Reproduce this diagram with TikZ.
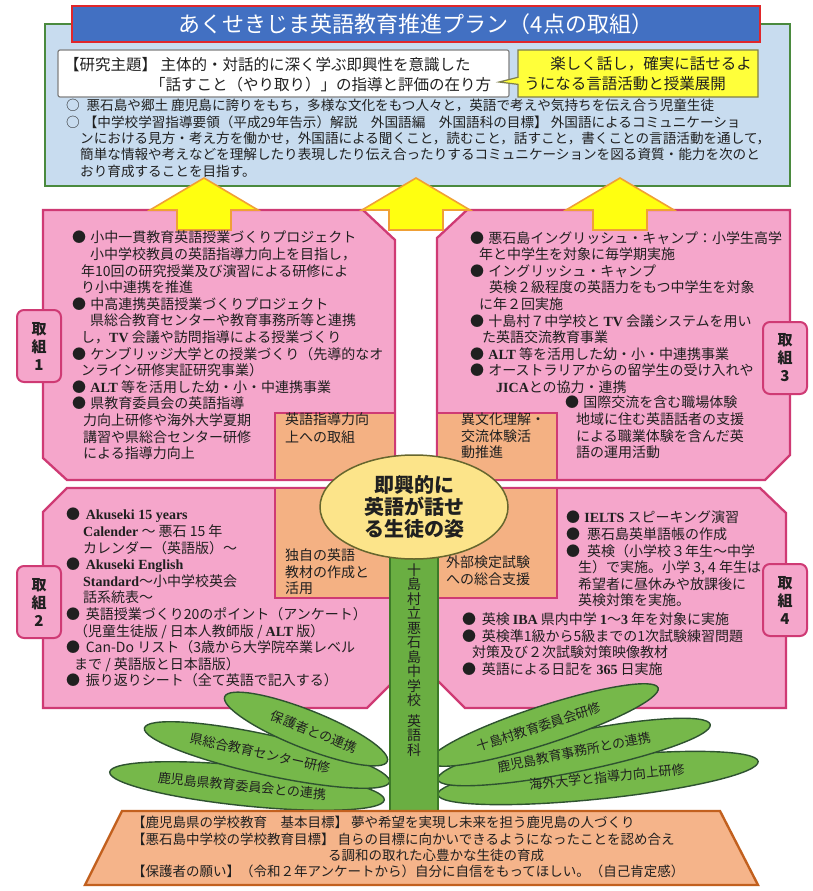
\documentclass[tikz,border=0pt]{standalone}
\usepackage{fontspec}
\setmainfont{Noto Sans CJK JP}
\newfontfamily\latserif{Liberation Serif}
\newcommand\lb[1]{{\latserif\bfseries #1}}
\usetikzlibrary{shapes.geometric,shapes.callouts}

\definecolor{bluefill}{HTML}{C8DCEF}
\definecolor{boxgreen}{HTML}{4A8A3E}
\definecolor{titleblue}{HTML}{4270C2}
\definecolor{titlered}{HTML}{E0262A}
\definecolor{scrollline}{HTML}{808080}
\definecolor{calloutfill}{HTML}{FFFF3A}
\definecolor{calloutline}{HTML}{7F7F4C}
\definecolor{arrowfill}{HTML}{FFFF10}
\definecolor{arrowline}{HTML}{F0A035}
\definecolor{pinkfill}{HTML}{F5A6CB}
\definecolor{pinkline}{HTML}{CF3A74}
\definecolor{orangefill}{HTML}{F4B183}
\definecolor{ellfill}{HTML}{FCE48A}
\definecolor{ellline}{HTML}{66662E}
\definecolor{stemfill}{HTML}{6AAE42}
\definecolor{stemline}{HTML}{3D7A28}
\definecolor{leaffill}{HTML}{76B84A}
\definecolor{leafline}{HTML}{2E5230}
\definecolor{trapfill}{HTML}{F5B48A}
\definecolor{trapline}{HTML}{C2601E}
\definecolor{ink}{HTML}{202020}

\tikzset{
  planbox/.style={fill=bluefill, draw=boxgreen, line width=2.6pt},
  titlebar/.style={fill=titleblue, draw=titlered, line width=2.6pt, text=white,
    font=\fontsize{22}{24}\selectfont, inner sep=0},
  scrollbox/.style={fill=white, draw=scrollline, line width=1.2pt, rounded corners=2pt},
  themebubble/.style={rectangle callout, fill=calloutfill, draw=calloutline, line width=1.2pt,
    inner sep=0, align=left, text=ink, font=\fontsize{15.5}{20}\selectfont},
  uparrow/.style={fill=arrowfill, draw=arrowline, line width=1.6pt, line join=miter},
  pinkbox/.style={fill=pinkfill, draw=pinkline, line width=2.3pt, line join=miter},
  orangebox/.style={fill=orangefill, draw=pinkline, line width=1.6pt},
  tagbox/.style={fill=pinkfill, draw=pinkline, line width=2pt, rounded corners=7pt,
    minimum width=44pt, minimum height=72pt, align=center, text=ink, inner sep=0,
    font=\fontsize{15}{18}\selectfont\bfseries},
  bodytext/.style={anchor=north west, inner sep=0, align=left, text=ink,
    font=\fontsize{14}{16.6}\selectfont},
  planlines/.style={anchor=north west, inner sep=0, align=left, text=ink,
    font=\fontsize{13.6}{16.4}\selectfont},
  goal/.style={ellipse, fill=ellfill, draw=ellline, line width=1.5pt, inner sep=0,
    align=center, text=ink, font=\fontsize{20}{22}\selectfont\bfseries},
  stemstyle/.style={fill=stemfill, draw=stemline, line width=1.4pt, inner sep=0},
  leaf/.style={ellipse, fill=leaffill, draw=leafline, line width=1.4pt, inner sep=0},
  leaftext/.style={inner sep=0, text=ink, font=\fontsize{13}{14}\selectfont},
  basebox/.style={fill=trapfill, draw=trapline, line width=2.4pt, line join=miter},
}

\begin{document}
\begin{tikzpicture}[x=1pt,y=-1pt]
\useasboundingbox (0,0) rectangle (812,891);
\fill[white] (0,0) rectangle (812,891);

% ---- plan panel ----
\path[planbox] (45,24) rectangle (790,186);
\node[titlebar, minimum width=688pt, minimum height=36pt] (title) at (416,24)
  {あくせきじま英語教育推進プラン（4点の取組）};

\node[scrollbox, minimum width=451pt, minimum height=47pt, inner sep=0] (themebox) at (283.5,73.5) {};
\node[anchor=north west, inner sep=0, align=left, text=ink, font=\fontsize{15.5}{20}\selectfont]
  (themetext) at (64,57.5)
  {【研究主題】 主体的・対話的に深く学ぶ即興性を意識した\\
   \hspace*{86pt}「話すこと（やり取り）」の指導と評価の在り方};

\node[themebubble, minimum width=240pt, minimum height=47pt,
  callout absolute pointer={(499,82)}] (bubble) at (638,73.5)
  {\hspace*{26pt}楽しく話し，確実に話せるよ\\うになる言語活動と授業展開};

\node[planlines] (aims) at (66,99)
  {○\hspace{0.5em}悪石島や郷土 鹿児島に誇りをもち，多様な文化をもつ人々と，英語で考えや気持ちを伝え合う児童生徒\\
   ○\hspace{0.3em}【中学校学習指導要領（平成29年告示）解説　外国語編　外国語科の目標】 外国語によるコミュニケーショ\\
   \hspace*{14pt}ンにおける見方・考え方を働かせ，外国語による聞くこと，読むこと，話すこと，書くことの言語活動を通して，\\
   \hspace*{14pt}簡単な情報や考えなどを理解したり表現したり伝え合ったりするコミュニケーションを図る資質・能力を次のと\\
   \hspace*{14pt}おり育成することを目指す。};

% ---- four activity panels ----
\path[pinkbox] (43,210) -- (363,210) -- (395,240) -- (395,480) -- (67,480) -- (43,458) -- cycle;
\path[pinkbox] (467,210) -- (790,210) -- (790,455) -- (765,480) -- (437,480) -- (437,238) -- cycle;
\path[pinkbox] (67,488) -- (395,488) -- (395,680) -- (367,708) -- (43,708) -- (43,512) -- cycle;
\path[pinkbox] (437,488) -- (760,488) -- (786,513) -- (786,708) -- (465,708) -- (437,680) -- cycle;

\path[orangebox] (275,413) rectangle (395,480);
\path[orangebox] (437,413) rectangle (557,480);
\path[orangebox] (275,488) rectangle (395,598);
\path[orangebox] (437,488) rectangle (557,598);

% arrows up into the plan panel
\foreach \cx in {204,416,620}
  \path[uparrow] (\cx,178) -- ++(54,32) -- ++(-27,0) -- ++(0,20) -- ++(-54,0)
     -- ++(0,-20) -- ++(-27,0) -- cycle;

\node[tagbox] (tag1) at (39,346) {取\\組\\1};
\node[tagbox] (tag3) at (785,358) {取\\組\\3};
\node[tagbox] (tag2) at (39,602) {取\\組\\2};
\node[tagbox] (tag4) at (785,600) {取\\組\\4};

\node[bodytext] (tltext) at (72,231)
  {●\hspace{0.3em}小中一貫教育英語授業づくりプロジェクト\\
   \hspace*{18pt}小中学校教員の英語指導力向上を目指し，\\
   \hspace*{9pt}年10回の研究授業及び演習による研修によ\\
   \hspace*{9pt}り小中連携を推進\\
   ●\hspace{0.3em}中高連携英語授業づくりプロジェクト\\
   \hspace*{18pt}県総合教育センターや教育事務所等と連携\\
   \hspace*{9pt}し，\lb{TV} 会議や訪問指導による授業づくり\\
   ●\hspace{0.3em}ケンブリッジ大学との授業づくり（先導的なオ\\
   \hspace*{9pt}ンライン研修実証研究事業）\\
   ●\hspace{0.3em}\lb{ALT} 等を活用した幼・小・中連携事業\\
   ●\hspace{0.3em}県教育委員会の英語指導\\
   \hspace*{11pt}力向上研修や海外大学夏期\\
   \hspace*{11pt}講習や県総合センター研修\\
   \hspace*{11pt}による指導力向上};

\node[bodytext] (trtext) at (470,231)
  {●\hspace{0.3em}悪石島イングリッシュ・キャンプ：小学生高学\\
   \hspace*{9pt}年と中学生を対象に毎学期実施\\
   ●\hspace{0.3em}イングリッシュ・キャンプ\\
   \hspace*{19pt}英検２級程度の英語力をもつ中学生を対象\\
   \hspace*{9pt}に年２回実施\\
   ●\hspace{0.3em}十島村７中学校と \lb{TV} 会議システムを用い\\
   \hspace*{12pt}た英語交流教育事業\\
   ●\hspace{0.3em}\lb{ALT} 等を活用した幼・小・中連携事業\\
   ●\hspace{0.3em}オーストラリアからの留学生の受け入れや\\
   \hspace*{26pt}\lb{JICA}との協力・連携};

\node[bodytext] (trtext2) at (565,396)
  {●\hspace{0.3em}国際交流を含む職場体験\\
   \hspace*{11pt}地域に住む英語話者の支援\\
   \hspace*{11pt}による職業体験を含んだ英\\
   \hspace*{11pt}語の運用活動};

\node[bodytext] (bltext) at (66,508)
  {●\hspace{0.4em}\lb{Akuseki 15 years}\\
   \hspace*{17pt}\lb{Calender} ～ 悪石 15 年\\
   \hspace*{17pt}カレンダー（英語版）～\\
   ●\hspace{0.4em}\lb{Akuseki English}\\
   \hspace*{17pt}\lb{Standard}～小中学校英会\\
   \hspace*{17pt}話系統表～\\
   ●\hspace{0.4em}英語授業づくり20のポイント（アンケート）\\
   \hspace*{8pt}（児童生徒版 / 日本人教師版 / \lb{ALT} 版）\\
   ●\hspace{0.4em}Can-Do リスト（3歳から大学院卒業レベル\\
   \hspace*{8pt}まで / 英語版と日本語版）\\
   ●\hspace{0.4em}振り返りシート（全て英語で記入する）};

\node[bodytext] (brtext) at (566,511)
  {●\hspace{0.3em}\lb{IELTS} スピーキング演習\\
   ●\hspace{0.5em}悪石島英単語帳の作成\\
   ●\hspace{0.5em}英検（小学校３年生～中学\\
   \hspace*{12pt}生）で実施。小学 3, 4 年生は\\
   \hspace*{12pt}希望者に昼休みや放課後に\\
   \hspace*{12pt}英検対策を実施。};

\node[bodytext] (brtext2) at (462,612.5)
  {●\hspace{0.4em}英検 \lb{IBA} 県内中学 \lb{1}～\lb{3} 年を対象に実施\\
   ●\hspace{0.4em}英検準1級から5級までの1次試験練習問題\\
   \hspace*{10pt}対策及び２次試験対策映像教材\\
   ●\hspace{0.4em}英語による日記を \lb{365} 日実施};

% focus labels in the orange boxes
\node[bodytext, font=\fontsize{14}{18}\selectfont] (focus1) at (285,413) {英語指導力向\\上への取組};
\node[bodytext, font=\fontsize{14}{16.5}\selectfont] (focus3) at (461,413) {異文化理解・\\交流体験活\\動推進};
\node[bodytext, font=\fontsize{14}{16.5}\selectfont] (focus2) at (285,549) {独自の英語\\教材の作成と\\活用};
\node[bodytext, font=\fontsize{14}{17}\selectfont] (focus4) at (446,556) {外部検定試験\\への総合支援};

% ---- leaves, stem and goal ----
\node[leaf, minimum width=276pt, minimum height=40pt, rotate=-5.8] (lf3) at (247,786) {};
\node[leaf, minimum width=251pt, minimum height=40pt, rotate=-12.4] (lf2) at (267,755) {};
\node[leaf, minimum width=175pt, minimum height=38pt, rotate=-21.7] (lf1) at (306,729) {};
\node[leaf, minimum width=322pt, minimum height=42pt, rotate=5.9] (lf6) at (598,778) {};
\node[leaf, minimum width=278pt, minimum height=40pt, rotate=11.4] (lf5) at (574,752) {};
\node[leaf, minimum width=240pt, minimum height=38pt, rotate=18] (lf4) at (544,725) {};

\node[leaftext, rotate=-5.8] (lf3t) at (242,786) {鹿児島県教育委員会との連携};
\node[leaftext, rotate=-12.4] (lf2t) at (260,753) {県総合教育センター研修};
\node[leaftext, rotate=-21.7] (lf1t) at (314,732) {保護者との連携};
\node[leaftext, rotate=5.9] (lf6t) at (607,777) {海外大学と指導力向上研修};
\node[leaftext, rotate=11.4] (lf5t) at (574,752) {鹿児島教育事務所との連携};
\node[leaftext, rotate=18] (lf4t) at (539,727) {十島村教育委員会研修};

\node[stemstyle, minimum width=48pt, minimum height=272pt] (stem) at (414,676) {};
\node[inner sep=0, align=center, text=ink, font=\fontsize{14}{14.5}\selectfont] (stemtext) at (414,660)
  {十\\島\\村\\立\\悪\\石\\島\\中\\学\\校\\[6pt]英\\語\\科};

\node[goal, minimum width=188pt, minimum height=104pt] (goalnode) at (414,507)
  {即興的に\\英語が話せ\\る生徒の姿};

% ---- foundation ----
\path[basebox] (122,811) -- (720,811) -- (758,885) -- (85,885) -- cycle;
\node[anchor=north west, inner sep=0, align=left, text=ink, font=\fontsize{13.5}{16.4}\selectfont]
  (basetext) at (132,816)
  {【鹿児島県の学校教育　基本目標】 夢や希望を実現し未来を担う鹿児島の人づくり\\
   【悪石島中学校の学校教育目標】 自らの目標に向かいできるようになったことを認め合え\\
   \hspace*{196pt}る調和の取れた心豊かな生徒の育成\\
   【保護者の願い】（令和２年アンケートから）自分に自信をもってほしい。（自己肯定感）};
\end{tikzpicture}
\end{document}
